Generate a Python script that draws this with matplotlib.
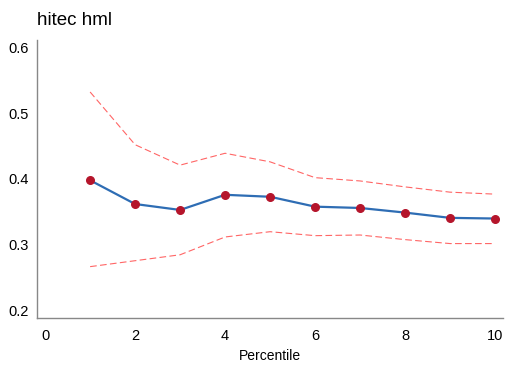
import numpy as np
import matplotlib
matplotlib.use("Agg")
import matplotlib.pyplot as plt

plt.rcParams['font.family'] = ['Liberation Sans', 'DejaVu Sans']

percentile = [1, 2, 3, 4, 5, 6, 7, 8, 9, 10]
estimate = [0.398, 0.362, 0.353, 0.376, 0.373, 0.358, 0.356, 0.349, 0.341, 0.340]
upper = [0.532, 0.452, 0.421, 0.439, 0.426, 0.402, 0.397, 0.388, 0.380, 0.377]
lower = [0.267, 0.276, 0.285, 0.312, 0.320, 0.314, 0.315, 0.308, 0.302, 0.302]

fig = plt.figure(figsize=(5.05, 3.66), dpi=100)
ax = fig.add_axes([0.0733, 0.131, 0.923, 0.76])

ax.plot(percentile, upper, color='#ff5555', lw=0.8, dashes=(6, 3), alpha=0.9)
ax.plot(percentile, lower, color='#ff5555', lw=0.8, dashes=(6, 3), alpha=0.9)
ax.plot(percentile, estimate, color='#2e6db4', lw=1.6)
ax.scatter(percentile, estimate, color='#b5152b', s=30, zorder=3)

ax.set_xlim(-0.18, 10.18)
ax.set_ylim(0.189, 0.611)
ax.set_xticks([0, 2, 4, 6, 8, 10])
ax.set_yticks([0.2, 0.3, 0.4, 0.5, 0.6])
ax.tick_params(axis='y', length=0, labelsize=10.5, pad=6)
ax.tick_params(axis='x', length=0, labelsize=10.5, pad=8)
for s in ['top', 'right']:
    ax.spines[s].set_visible(False)
for s in ['left', 'bottom']:
    ax.spines[s].set_color('#888888')
    ax.spines[s].set_linewidth(1.0)

ax.set_xlabel('Percentile', fontsize=10, labelpad=4)
ax.set_title('hitec hml', loc='left', fontsize=13.5, pad=11)

fig.savefig('out.png', dpi=100)
